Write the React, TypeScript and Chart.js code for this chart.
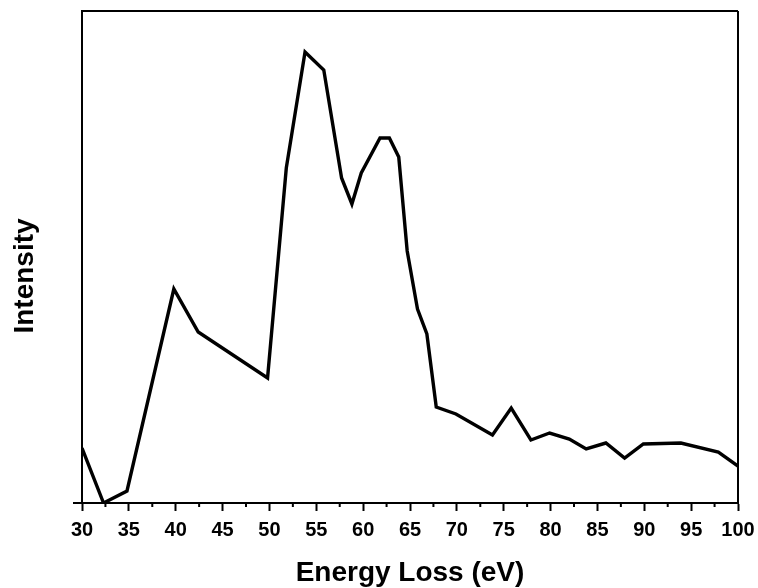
import React, { useEffect, useRef } from "react";
import { Chart, registerables } from "chart.js";

Chart.register(...registerables);

const energy = [30, 32.3, 34.8, 39.8, 42.4, 49.8, 51.8, 53.8, 55.8, 57.7, 58.8, 59.8, 61.8, 62.8, 63.8, 64.7, 65.8, 66.8, 67.8, 69.9, 73.8, 75.8, 77.9, 79.9, 82.0, 83.8, 85.9, 87.9, 89.9, 93.9, 97.9, 100];
const intensity = [55, 0, 12, 214, 171, 125, 335, 451, 433, 325, 299, 330, 365, 365, 346, 252, 194, 169, 96, 89, 68, 95, 63, 70, 64, 54, 60, 45, 59, 60, 51, 37];
const xTickValues = [30, 35, 40, 45, 50, 55, 60, 65, 70, 75, 80, 85, 90, 95, 100];
const xMinorTicks = [32.5, 37.5, 42.5, 47.5, 52.5, 57.5, 62.5, 67.5, 72.5, 77.5, 82.5, 87.5, 92.5, 97.5];
const xTitle = "Energy Loss (eV)";
const yTitle = "Intensity";

const FONT = "'Liberation Sans', Arial, sans-serif";

const framePlugin = {
  id: "frame",
  afterDraw(chart: any) {
    const ctx = chart.ctx;
    const { left, right, top, bottom } = chart.chartArea;
    const xs = chart.scales.x;
    const ys = chart.scales.y;
    ctx.save();
    ctx.strokeStyle = "#000";
    ctx.lineWidth = 2;
    ctx.beginPath();
    ctx.moveTo(left, top);
    ctx.lineTo(right, top);
    ctx.moveTo(right, top);
    ctx.lineTo(right, bottom);
    for (const v of xMinorTicks) {
      const px = xs.getPixelForValue(v);
      ctx.moveTo(px, bottom);
      ctx.lineTo(px, bottom + 4);
    }
    const py = ys.getPixelForValue(0);
    ctx.moveTo(left, py);
    ctx.lineTo(left - 9, py);
    ctx.stroke();

    ctx.fillStyle = "#000";
    ctx.font = `bold 28px ${FONT}`;
    ctx.textAlign = "center";
    ctx.textBaseline = "alphabetic";
    ctx.translate(32.5, 276);
    ctx.rotate(-Math.PI / 2);
    ctx.fillText(yTitle, 0, 0);
    ctx.restore();
  },
};

export default function App() {
  const ref = useRef<HTMLCanvasElement>(null);
  useEffect(() => {
    if (!ref.current) return;
    const chart = new Chart(ref.current, {
      type: "line",
      data: {
        datasets: [
          {
            data: energy.map((e, i) => ({ x: e, y: intensity[i] })),
            borderColor: "#000",
            borderWidth: 3.4,
            pointRadius: 0,
            tension: 0,
            fill: false,
          },
        ],
      },
      options: {
        animation: false,
        responsive: false,
        maintainAspectRatio: false,
        layout: { padding: { top: 11, right: 20, left: 0, bottom: 0 } },
        plugins: { legend: { display: false }, tooltip: { enabled: false } },
        scales: {
          x: {
            type: "linear",
            min: 30,
            max: 100,
            afterBuildTicks: (scale: any) => {
              scale.ticks = xTickValues.map((v) => ({ value: v }));
            },
            afterFit: (scale: any) => {
              scale.height = 85;
              scale.paddingLeft = 0;
              scale.paddingRight = 0;
              scale.paddingTop = 0;
              scale.paddingBottom = 0;
            },
            ticks: {
              color: "#000",
              font: { family: FONT, size: 20, weight: "bold" },
              padding: 7,
              maxRotation: 0,
              autoSkip: false,
            },
            grid: {
              display: true,
              drawOnChartArea: false,
              drawTicks: true,
              tickLength: 8,
              tickWidth: 2,
              tickColor: "#000",
            },
            border: { display: true, color: "#000", width: 2 },
            title: {
              display: true,
              text: xTitle,
              color: "#000",
              font: { family: FONT, size: 28, weight: "bold", lineHeight: 1.1 },
              padding: { top: 0, bottom: -1 },
            },
          },
          y: {
            min: 0,
            max: 492,
            afterFit: (scale: any) => {
              scale.width = 82;
              scale.paddingLeft = 0;
              scale.paddingRight = 0;
              scale.paddingTop = 0;
              scale.paddingBottom = 0;
            },
            ticks: { display: false },
            grid: { display: false },
            border: { display: true, color: "#000", width: 2 },
          },
        },
      },
      plugins: [framePlugin],
    });
    return () => chart.destroy();
  }, []);
  return (
    <div style={{ position: "absolute", left: 0, top: 0, width: 758, height: 588, background: "#fff" }}>
      <canvas ref={ref} width={758} height={588} />
    </div>
  );
}
